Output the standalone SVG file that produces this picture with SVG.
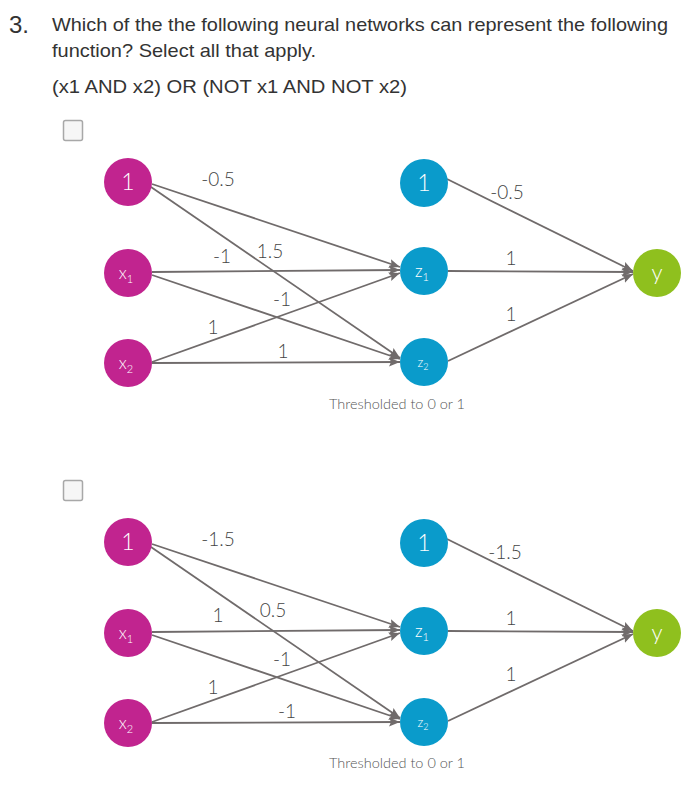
<svg xmlns="http://www.w3.org/2000/svg" width="697" height="791" viewBox="0 0 697 791">
<style>
.q{font-family:"Liberation Sans",Arial,sans-serif;fill:#333;font-size:19px}
.in{fill:#C1248F}
.hid{fill:#0A9BCB}
.out{fill:#8FC01E}
.nt{font-family:Lato,"Open Sans",sans-serif;font-weight:300;fill:#fff;text-anchor:middle}
.w{font-family:Lato,"Open Sans",sans-serif;font-weight:300;fill:#444;font-size:19px;text-anchor:middle}
.th{font-family:Lato,"Open Sans",sans-serif;font-weight:300;fill:#555;font-size:14px;text-anchor:middle}
.e{stroke:#706b6b;stroke-width:1.8;fill:none}
.cb{fill:#f6f6f6;stroke:#a8a8a8;stroke-width:1.5}
</style>
<defs>
<marker id="ah" markerUnits="userSpaceOnUse" markerWidth="12" markerHeight="10" refX="11" refY="5" orient="auto">
<path d="M0,0.5 L11,5 L0,9.5 L2,5 Z" fill="#706b6b"/>
</marker>
</defs>
<rect width="697" height="791" fill="#fff"/>
<text class="q" x="9" y="33" style="font-size:24px">3.</text>
<text class="q" x="52" y="31" textLength="616" lengthAdjust="spacingAndGlyphs">Which of the the following neural networks can represent the following</text>
<text class="q" x="52" y="57" textLength="264" lengthAdjust="spacingAndGlyphs">function? Select all that apply.</text>
<text class="q" x="52" y="93" textLength="355" lengthAdjust="spacingAndGlyphs">(x1 AND x2) OR (NOT x1 AND NOT x2)</text>

<g id="checkbox1"><rect class="cb" x="63.5" y="120.5" width="19" height="20" rx="2"/></g>
<g id="checkbox2"><rect class="cb" x="63.5" y="480.5" width="19" height="20" rx="2"/></g>

<!-- Network 1 -->
<g id="connectors1">
<line class="e" x1="152" y1="184" x2="400" y2="267" marker-end="url(#ah)"/>
<line class="e" x1="151" y1="187" x2="400" y2="358" marker-end="url(#ah)"/>
<line class="e" x1="152" y1="272" x2="400" y2="270" marker-end="url(#ah)"/>
<line class="e" x1="152" y1="275" x2="400" y2="359" marker-end="url(#ah)"/>
<line class="e" x1="152" y1="362" x2="400" y2="273" marker-end="url(#ah)"/>
<line class="e" x1="152" y1="363" x2="400" y2="362" marker-end="url(#ah)"/>
<line class="e" x1="447" y1="179" x2="633" y2="271" marker-end="url(#ah)"/>
<line class="e" x1="448" y1="271" x2="633" y2="272" marker-end="url(#ah)"/>
<line class="e" x1="448" y1="361" x2="633" y2="274" marker-end="url(#ah)"/>
</g>
<g id="labels1">
<text class="w" x="218" y="186">-0.5</text>
<text class="w" x="222" y="263">-1</text>
<text class="w" x="270" y="258">1.5</text>
<text class="w" x="282" y="306">-1</text>
<text class="w" x="213" y="334">1</text>
<text class="w" x="283" y="358">1</text>
<text class="w" x="507" y="199">-0.5</text>
<text class="w" x="511" y="265">1</text>
<text class="w" x="511" y="321">1</text>
<text class="th" x="397" y="409" textLength="136" lengthAdjust="spacingAndGlyphs">Thresholded to 0 or 1</text>
</g>
<g id="n1-b"><circle class="in" cx="128" cy="182" r="24"/><text class="nt" x="128" y="190" font-size="23">1</text></g>
<g id="n1-x1"><circle class="in" cx="128" cy="273" r="24"/><text class="nt" x="126" y="279" font-size="17">x<tspan font-size="11" dy="4">1</tspan></text></g>
<g id="n1-x2"><circle class="in" cx="128" cy="363" r="24"/><text class="nt" x="126" y="369" font-size="17">x<tspan font-size="11" dy="4">2</tspan></text></g>
<g id="n1-h1"><circle class="hid" cx="424" cy="183" r="24"/><text class="nt" x="424" y="191" font-size="23">1</text></g>
<g id="n1-z1"><circle class="hid" cx="424" cy="271" r="24"/><text class="nt" x="422" y="277" font-size="17">z<tspan font-size="11" dy="4">1</tspan></text></g>
<g id="n1-z2"><circle class="hid" cx="424" cy="362" r="24"/><text class="nt" x="423" y="367" font-size="13">z<tspan font-size="9" dy="3">2</tspan></text></g>
<g id="n1-y"><circle class="out" cx="657" cy="273" r="24"/><text class="nt" x="657" y="280" font-size="22">y</text></g>

<!-- Network 2 -->
<g id="connectors2">
<line class="e" x1="152" y1="544" x2="400" y2="627" marker-end="url(#ah)"/>
<line class="e" x1="151" y1="547" x2="400" y2="718" marker-end="url(#ah)"/>
<line class="e" x1="152" y1="632" x2="400" y2="630" marker-end="url(#ah)"/>
<line class="e" x1="152" y1="635" x2="400" y2="719" marker-end="url(#ah)"/>
<line class="e" x1="152" y1="722" x2="400" y2="633" marker-end="url(#ah)"/>
<line class="e" x1="152" y1="723" x2="400" y2="722" marker-end="url(#ah)"/>
<line class="e" x1="447" y1="539" x2="633" y2="631" marker-end="url(#ah)"/>
<line class="e" x1="448" y1="631" x2="633" y2="632" marker-end="url(#ah)"/>
<line class="e" x1="448" y1="721" x2="633" y2="634" marker-end="url(#ah)"/>
</g>
<g id="labels2">
<text class="w" x="218" y="546">-1.5</text>
<text class="w" x="218" y="622">1</text>
<text class="w" x="273" y="617">0.5</text>
<text class="w" x="282" y="666">-1</text>
<text class="w" x="213" y="694">1</text>
<text class="w" x="287" y="718">-1</text>
<text class="w" x="505" y="559">-1.5</text>
<text class="w" x="511" y="625">1</text>
<text class="w" x="511" y="681">1</text>
<text class="th" x="397" y="768" textLength="136" lengthAdjust="spacingAndGlyphs">Thresholded to 0 or 1</text>
</g>
<g id="n2-b"><circle class="in" cx="128" cy="542" r="24"/><text class="nt" x="128" y="550" font-size="23">1</text></g>
<g id="n2-x1"><circle class="in" cx="128" cy="633" r="24"/><text class="nt" x="126" y="639" font-size="17">x<tspan font-size="11" dy="4">1</tspan></text></g>
<g id="n2-x2"><circle class="in" cx="128" cy="723" r="24"/><text class="nt" x="126" y="729" font-size="17">x<tspan font-size="11" dy="4">2</tspan></text></g>
<g id="n2-h1"><circle class="hid" cx="424" cy="543" r="24"/><text class="nt" x="424" y="551" font-size="23">1</text></g>
<g id="n2-z1"><circle class="hid" cx="424" cy="631" r="24"/><text class="nt" x="422" y="637" font-size="17">z<tspan font-size="11" dy="4">1</tspan></text></g>
<g id="n2-z2"><circle class="hid" cx="424" cy="722" r="24"/><text class="nt" x="423" y="727" font-size="13">z<tspan font-size="9" dy="3">2</tspan></text></g>
<g id="n2-y"><circle class="out" cx="657" cy="633" r="24"/><text class="nt" x="657" y="640" font-size="22">y</text></g>
</svg>
